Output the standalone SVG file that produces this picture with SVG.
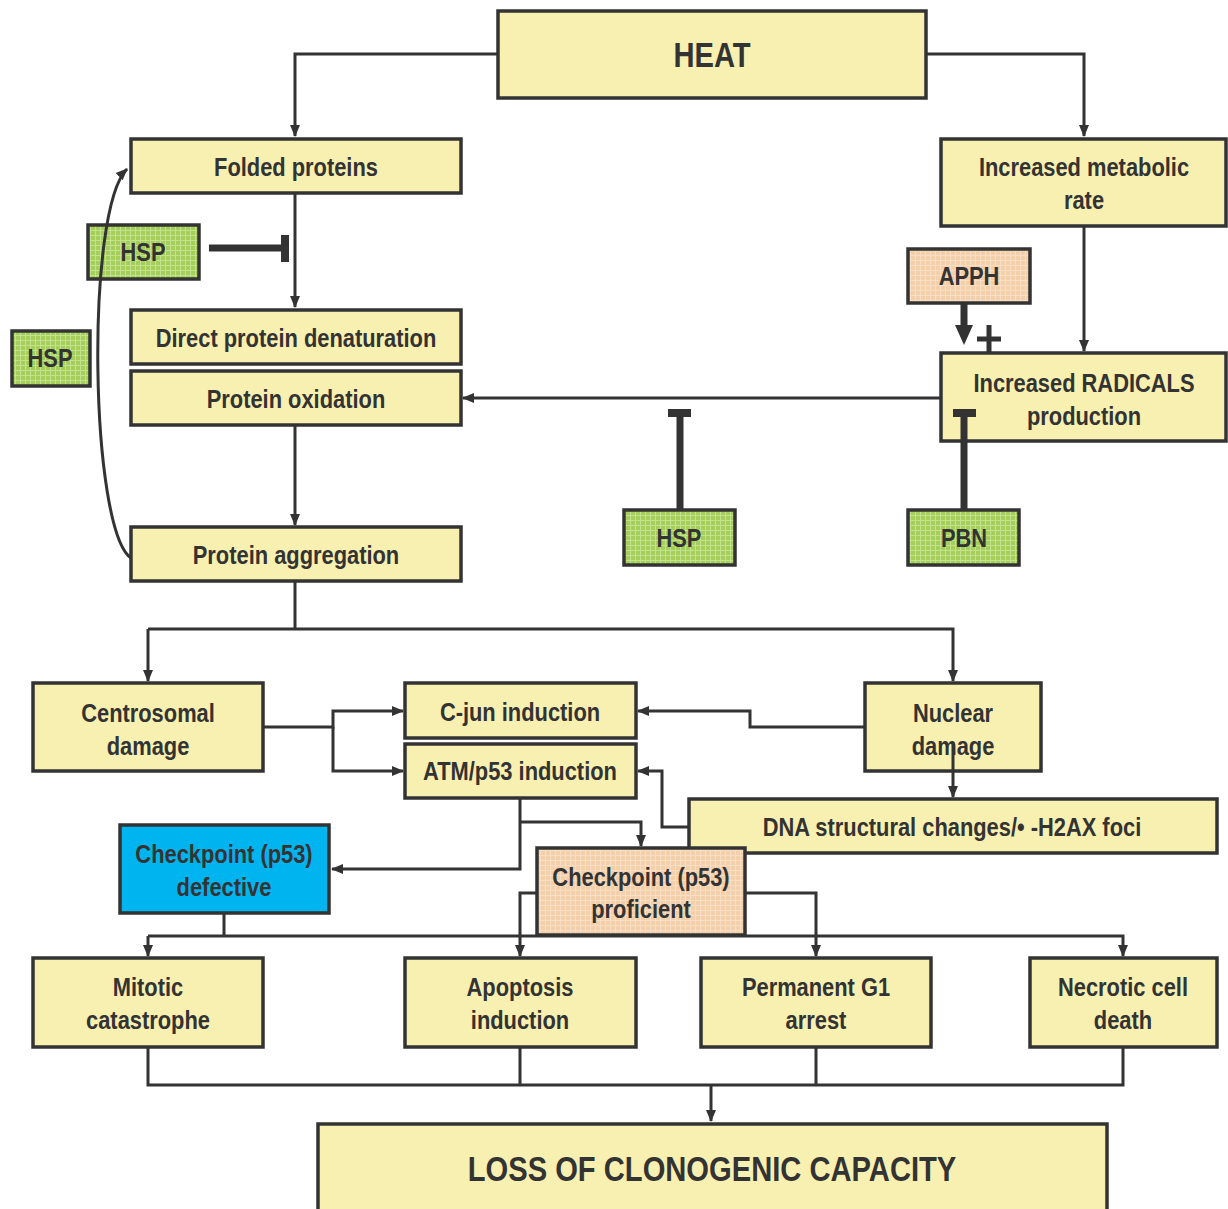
<svg xmlns="http://www.w3.org/2000/svg" width="1228" height="1209" viewBox="0 0 1228 1209">
<style>
text{font-family:"Liberation Sans",Arial,sans-serif;font-weight:bold;fill:#333;text-anchor:middle;font-size:25px;transform-box:fill-box;transform-origin:center;transform:scaleX(0.875)}
.box{stroke:#333;stroke-width:3.5}
.y{fill:#F8F0B0}
.g{fill:url(#gp)}
.p{fill:url(#pp)}
.b{fill:#00B5EF}
.c{fill:none;stroke:#333;stroke-width:3}
text.big{font-size:36px;transform:scaleX(0.81)}
.inh{fill:none;stroke:#333;stroke-width:7}
</style>
<defs>
<pattern id="gp" width="5" height="5" patternUnits="userSpaceOnUse">
<rect width="5" height="5" fill="#A5CF5A"/>
<path d="M0 0.5H5M0.5 0V5" stroke="#C3E28E" stroke-width="1"/>
</pattern>
<pattern id="pp" width="5" height="5" patternUnits="userSpaceOnUse">
<rect width="5" height="5" fill="#F3CFAA"/>
<path d="M0 0.5H5M0.5 0V5" stroke="#F8DEC4" stroke-width="1"/>
</pattern>
<marker id="ar" markerWidth="12" markerHeight="12" refX="11" refY="6" orient="auto" markerUnits="userSpaceOnUse">
<path d="M0 1L12 6L0 11Z" fill="#333"/>
</marker>
</defs>

<g id="heat"><rect class="box y" x="498" y="11" width="428" height="87"/><text class="big" x="712" y="67">HEAT</text></g>
<g id="folded"><rect class="box y" x="131" y="139" width="330" height="54"/><text x="296" y="176">Folded proteins</text></g>
<g id="metabolic"><rect class="box y" x="941" y="139" width="285" height="87"/><text x="1084" y="176">Increased metabolic</text><text x="1084" y="209">rate</text></g>
<g id="hsp1"><rect class="box g" x="88" y="225" width="111" height="54"/><text x="143" y="261">HSP</text></g>
<g id="hsp2"><rect class="box g" x="12" y="331" width="78" height="55"/><text x="50" y="367">HSP</text></g>
<g id="apph"><rect class="box p" x="908" y="249" width="122" height="54"/><text x="969" y="285">APPH</text></g>
<g id="denat"><rect class="box y" x="131" y="310" width="330" height="54"/><text x="296" y="347">Direct protein denaturation</text></g>
<g id="oxid"><rect class="box y" x="131" y="371" width="330" height="54"/><text x="296" y="408">Protein oxidation</text></g>
<g id="radicals"><rect class="box y" x="941" y="353" width="285" height="88"/><text x="1084" y="392">Increased RADICALS</text><text x="1084" y="425">production</text></g>
<g id="hsp3"><rect class="box g" x="624" y="510" width="111" height="55"/><text x="679" y="547">HSP</text></g>
<g id="pbn"><rect class="box g" x="908" y="510" width="111" height="55"/><text x="964" y="547">PBN</text></g>
<g id="aggreg"><rect class="box y" x="131" y="527" width="330" height="54"/><text x="296" y="564">Protein aggregation</text></g>
<g id="centro"><rect class="box y" x="33" y="683" width="230" height="88"/><text x="148" y="722">Centrosomal</text><text x="148" y="755">damage</text></g>
<g id="cjun"><rect class="box y" x="405" y="683" width="231" height="55"/><text x="520" y="721">C-jun induction</text></g>
<g id="atm"><rect class="box y" x="405" y="744" width="231" height="54"/><text x="520" y="780">ATM/p53 induction</text></g>
<g id="nuclear"><rect class="box y" x="865" y="683" width="176" height="88"/><text x="953" y="722">Nuclear</text><text x="953" y="755">damage</text></g>
<g id="dna"><rect class="box y" x="689" y="799" width="528" height="54"/><text x="952" y="836">DNA structural changes/• -H2AX foci</text></g>
<g id="defective"><rect class="box b" x="120" y="825" width="209" height="88"/><text x="224" y="863">Checkpoint (p53)</text><text x="224" y="896">defective</text></g>
<g id="proficient"><rect class="box p" x="537" y="848" width="208" height="87"/><text x="641" y="886">Checkpoint (p53)</text><text x="641" y="918">proficient</text></g>
<g id="mitotic"><rect class="box y" x="33" y="958" width="230" height="89"/><text x="148" y="996">Mitotic</text><text x="148" y="1029">catastrophe</text></g>
<g id="apoptosis"><rect class="box y" x="405" y="958" width="231" height="89"/><text x="520" y="996">Apoptosis</text><text x="520" y="1029">induction</text></g>
<g id="g1"><rect class="box y" x="701" y="958" width="230" height="89"/><text x="816" y="996">Permanent G1</text><text x="816" y="1029">arrest</text></g>
<g id="necrotic"><rect class="box y" x="1030" y="958" width="187" height="89"/><text x="1123" y="996">Necrotic cell</text><text x="1123" y="1029">death</text></g>
<g id="loss"><rect class="box y" x="318" y="1124" width="789" height="90"/><text class="big" x="712" y="1181">LOSS OF CLONOGENIC CAPACITY</text></g>

<g id="connectors">
<path class="c" d="M498 54H295V136" marker-end="url(#ar)"/>
<path class="c" d="M926 54H1084V136" marker-end="url(#ar)"/>
<path class="c" d="M295 193V307" marker-end="url(#ar)"/>
<path class="c" d="M295 425V525" marker-end="url(#ar)"/>
<path class="c" d="M131 558C90 530 85 210 127 169" marker-end="url(#ar)"/>
<path class="c" d="M1084 226V351" marker-end="url(#ar)"/>
<path class="c" d="M941 398H463" marker-end="url(#ar)"/>
<path class="inh" d="M209 248H283"/>
<path d="M281 235H289V262H281Z" fill="#333"/>
<path class="inh" d="M680 510V414"/>
<path d="M668 409H691V417H668Z" fill="#333"/>
<path class="inh" d="M964 510V414"/>
<path d="M953 409H976V417H953Z" fill="#333"/>
<path class="inh" d="M964 303V326"/>
<path d="M955 325H973L964 345Z" fill="#333"/>
<path d="M977 336.5H1001V341.5H977ZM986.5 325H991.5V353H986.5Z" fill="#333"/>
<path class="c" d="M295 581V629"/>
<path class="c" d="M148 629H953V681" marker-end="url(#ar)"/>
<path class="c" d="M148 629V681" marker-end="url(#ar)"/>
<path class="c" d="M263 727H333V711H403" marker-end="url(#ar)"/>
<path class="c" d="M333 727V771H403" marker-end="url(#ar)"/>
<path class="c" d="M865 727H750V711H638" marker-end="url(#ar)"/>
<path class="c" d="M953 742V797" marker-end="url(#ar)"/>
<path class="c" d="M689 827H662V771H638" marker-end="url(#ar)"/>
<path class="c" d="M520 798V869H332" marker-end="url(#ar)"/>
<path class="c" d="M520 822H641V846" marker-end="url(#ar)"/>
<path class="c" d="M224 913V936"/>
<path class="c" d="M148 936H1123V956" marker-end="url(#ar)"/>
<path class="c" d="M148 936V956" marker-end="url(#ar)"/>
<path class="c" d="M537 893H520V956" marker-end="url(#ar)"/>
<path class="c" d="M745 893H816V956" marker-end="url(#ar)"/>
<path class="c" d="M148 1047V1085H1123V1047M520 1047V1085M816 1047V1085"/>
<path class="c" d="M711 1085V1121" marker-end="url(#ar)"/>
</g>
</svg>
